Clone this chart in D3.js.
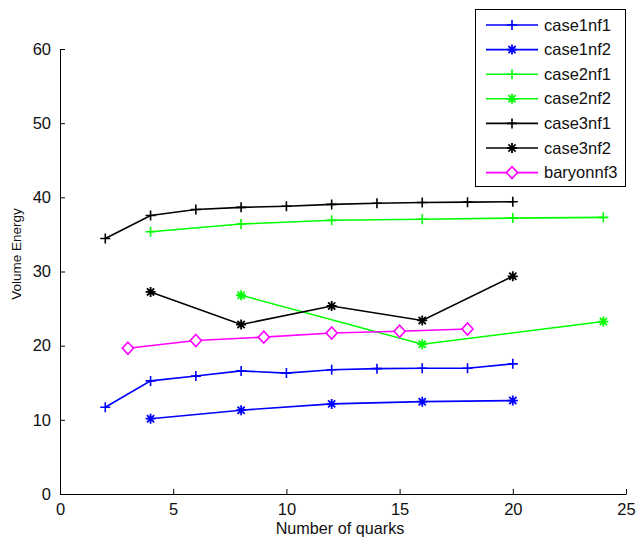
<!DOCTYPE html>
<html>
<head>
<meta charset="utf-8">
<script src="https://cdn.jsdelivr.net/npm/d3@7"></script>
<style>
  html, body { margin: 0; padding: 0; background: #fff; }
  svg { display: block; font-family: "Liberation Sans", Arial, sans-serif; }
</style>
</head>
<body>
<svg id="chart" width="637" height="539"></svg>
<script>
const xTicks = [0, 5, 10, 15, 20, 25];
const yTicks = [0, 10, 20, 30, 40, 50, 60];

const case1nf1X = [2, 4, 6, 8, 10, 12, 14, 16, 18, 20];
const case1nf1Y = [11.7, 15.25, 15.9, 16.6, 16.3, 16.75, 16.9, 16.95, 16.95, 17.55];

const case1nf2X = [4, 8, 12, 16, 20];
const case1nf2Y = [10.15, 11.3, 12.15, 12.45, 12.6];

const case2nf1X = [4, 8, 12, 16, 20, 24];
const case2nf1Y = [35.35, 36.4, 36.9, 37.05, 37.2, 37.3];

const case2nf2X = [8, 16, 24];
const case2nf2Y = [26.8, 20.2, 23.25];

const case3nf1X = [2, 4, 6, 8, 10, 12, 14, 16, 18, 20];
const case3nf1Y = [34.45, 37.55, 38.35, 38.65, 38.8, 39.05, 39.2, 39.3, 39.35, 39.4];

const case3nf2X = [4, 8, 12, 16, 20];
const case3nf2Y = [27.25, 22.85, 25.35, 23.4, 29.35];

const baryonX = [3, 6, 9, 12, 15, 18];
const baryonY = [19.65, 20.7, 21.15, 21.7, 21.95, 22.25];

const series = [
  { name: "case1nf1", color: "#0000ff", marker: "plus", xs: case1nf1X, ys: case1nf1Y },
  { name: "case1nf2", color: "#0000ff", marker: "star", xs: case1nf2X, ys: case1nf2Y },
  { name: "case2nf1", color: "#00ff00", marker: "plus", xs: case2nf1X, ys: case2nf1Y },
  { name: "case2nf2", color: "#00ff00", marker: "star", xs: case2nf2X, ys: case2nf2Y },
  { name: "case3nf1", color: "#000000", marker: "plus", xs: case3nf1X, ys: case3nf1Y },
  { name: "case3nf2", color: "#000000", marker: "star", xs: case3nf2X, ys: case3nf2Y },
  { name: "baryonnf3", color: "#ff00ff", marker: "diamond", xs: baryonX, ys: baryonY }
];

const svg = d3.select("#chart");
const margin = { left: 60, right: 11, top: 49, bottom: 45 };
const width = 637, height = 539;

const x = d3.scaleLinear().domain([0, 25]).range([margin.left, width - margin.right]);
const y = d3.scaleLinear().domain([0, 60]).range([height - margin.bottom, margin.top]);

// marker shapes, centred at 0,0
function markerPath(type) {
  if (type === "plus") return "M-5,0H5M0,-5V5";
  if (type === "star") return "M-5,0H5M0,-5V5M-3.6,-3.6L3.6,3.6M-3.6,3.6L3.6,-3.6";
  return "M0,-6L5.5,0L0,6L-5.5,0Z";
}

// axes: MATLAB style, ticks pointing in
const xAxis = d3.axisBottom(x).tickValues(xTicks).tickSizeInner(-5).tickSizeOuter(0).tickPadding(9);
const yAxis = d3.axisLeft(y).tickValues(yTicks).tickSizeInner(-5).tickSizeOuter(0).tickPadding(9);

const styleAxis = g => {
  g.select(".domain").attr("stroke", "#000").attr("stroke-width", 1);
  g.selectAll(".tick line").attr("stroke", "#000");
  g.selectAll(".tick text").attr("font-size", 16.5).attr("fill", "#111").attr("font-family", "Liberation Sans, Arial");
};

svg.append("g")
  .attr("transform", `translate(0,${y(0)})`)
  .call(xAxis)
  .call(styleAxis);

svg.append("g")
  .attr("transform", `translate(${x(0)},0)`)
  .call(yAxis)
  .call(styleAxis);

svg.append("text")
  .attr("x", 340)
  .attr("y", 534)
  .attr("text-anchor", "middle")
  .attr("font-size", 16.2)
  .attr("fill", "#111")
  .text("Number of quarks");

svg.append("text")
  .attr("transform", "translate(21,254) rotate(-90)")
  .attr("text-anchor", "middle")
  .attr("font-size", 13.5)
  .attr("fill", "#111")
  .text("Volume Energy");

const line = d3.line().x(d => x(d[0])).y(d => y(d[1]));

series.forEach(s => {
  const pts = s.xs.map((v, i) => [v, s.ys[i]]);
  const g = svg.append("g");
  g.append("path")
    .attr("d", line(pts))
    .attr("fill", "none")
    .attr("stroke", s.color)
    .attr("stroke-width", 1.6);
  g.selectAll("path.mk")
    .data(pts)
    .join("path")
    .attr("class", "mk")
    .attr("transform", d => `translate(${x(d[0])},${y(d[1])})`)
    .attr("d", markerPath(s.marker))
    .attr("fill", s.marker === "diamond" ? "#fff" : "none")
    .attr("stroke", s.color)
    .attr("stroke-width", s.marker === "star" ? 1.8 : 1.6);
});

// legend
const legend = svg.append("g");
legend.append("rect")
  .attr("x", 475.5).attr("y", 9.5)
  .attr("width", 150).attr("height", 177)
  .attr("fill", "#fff").attr("stroke", "#000").attr("stroke-width", 1);

series.forEach((s, i) => {
  const ly = 25 + i * 24.6;
  legend.append("line")
    .attr("x1", 486).attr("x2", 538)
    .attr("y1", ly).attr("y2", ly)
    .attr("stroke", s.color).attr("stroke-width", 1.6);
  legend.append("path")
    .attr("transform", `translate(512,${ly})`)
    .attr("d", markerPath(s.marker))
    .attr("fill", s.marker === "diamond" ? "#fff" : "none")
    .attr("stroke", s.color)
    .attr("stroke-width", s.marker === "star" ? 1.8 : 1.6);
  legend.append("text")
    .attr("x", 544).attr("y", ly + 5.5)
    .attr("font-size", 16.5)
    .attr("fill", "#111")
    .text(s.name);
});
</script>
</body>
</html>
